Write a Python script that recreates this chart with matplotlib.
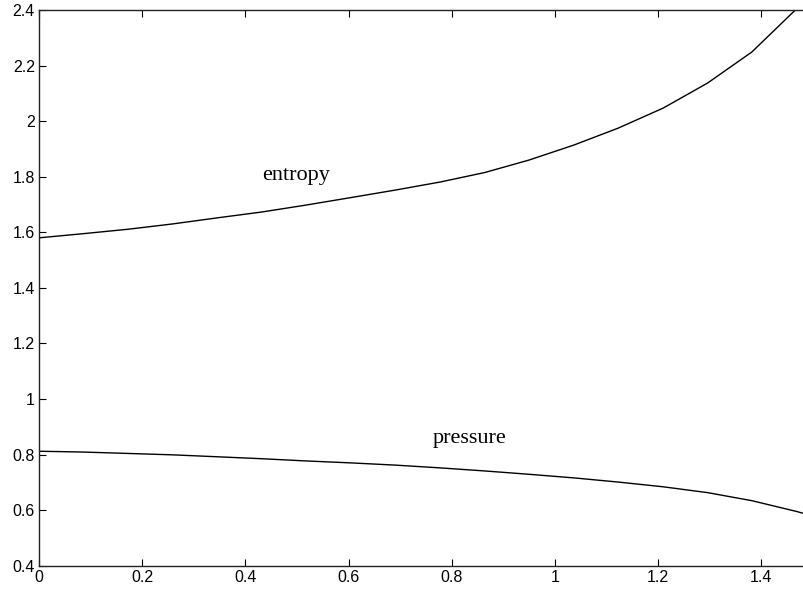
import matplotlib
matplotlib.use("Agg")
import matplotlib.pyplot as plt
import numpy as np

# sample positions along the x axis (uniform step of the solver output)
x = [0.000, 0.086, 0.173, 0.259, 0.346, 0.432, 0.518, 0.605, 0.691, 0.778,
     0.864, 0.950, 1.037, 1.123, 1.210, 1.296, 1.382, 1.469, 1.555]

entropy = [1.580, 1.595, 1.611, 1.630, 1.652, 1.673, 1.698, 1.725, 1.752, 1.781,
           1.815, 1.860, 1.914, 1.975, 2.047, 2.137, 2.249, 2.405, 2.600]

pressure = [0.812, 0.809, 0.804, 0.799, 0.792, 0.785, 0.777, 0.770, 0.762, 0.752,
            0.741, 0.729, 0.716, 0.701, 0.684, 0.663, 0.634, 0.595, 0.550]

xticks = [0, 0.2, 0.4, 0.6, 0.8, 1.0, 1.2, 1.4]
xtick_labels = ["0", "0.2", "0.4", "0.6", "0.8", "1", "1.2", "1.4"]
yticks = [0.4, 0.6, 0.8, 1.0, 1.2, 1.4, 1.6, 1.8, 2.0, 2.2, 2.4]
ytick_labels = ["0.4", "0.6", "0.8", "1", "1.2", "1.4", "1.6", "1.8", "2", "2.2", "2.4"]

plt.rcParams["font.family"] = ["Liberation Sans", "DejaVu Sans"]

fig = plt.figure(figsize=(8.04, 5.90), dpi=100)
ax = fig.add_axes([39 / 804, 24.3 / 590, 1 - 39 / 804, 555.7 / 590])

ax.plot(x, entropy, color="black", linewidth=1.0)
ax.plot(x, pressure, color="black", linewidth=1.0)

ax.set_xlim(0, 1.483)
ax.set_ylim(0.4, 2.4)

ax.set_xticks(xticks)
ax.set_xticklabels(xtick_labels)
ax.set_yticks(yticks)
ax.set_yticklabels(ytick_labels)
ax.tick_params(direction="in", length=5, width=0.8, labelsize=11.5,
               top=True, right=False, pad=3)

ax.spines["right"].set_visible(False)
for side in ("left", "bottom", "top"):
    ax.spines[side].set_linewidth(1.0)
    ax.spines[side].set_color("#222222")

ax.text(0.498, 1.805, "entropy", family="Liberation Serif", fontsize=16,
        ha="center", va="center")
ax.text(0.835, 0.858, "pressure", family="Liberation Serif", fontsize=16,
        ha="center", va="center")

fig.savefig("out.png", dpi=100)
